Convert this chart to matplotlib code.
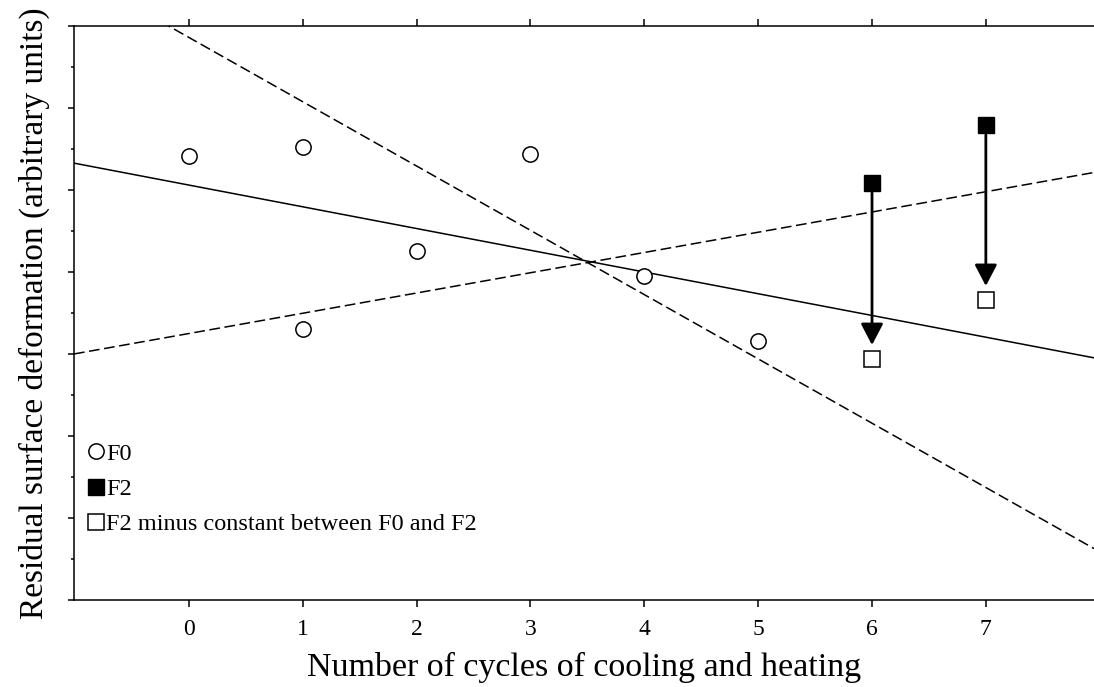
import matplotlib
matplotlib.use("Agg")
import matplotlib.pyplot as plt
import numpy as np

plt.rcParams["font.family"] = ["Liberation Serif", "DejaVu Serif"]

# F0 measurements
f0_x = [0, 1, 1, 2, 3, 4, 5]
f0_y = [5.41, 5.52, 3.30, 4.26, 5.44, 3.95, 3.16]

# F2 measurements and F2 shifted by the F0/F2 constant
f2_x = [6, 7]
f2_y = [5.09, 5.79]
f2_shift_y = [2.94, 3.66]

# fitted lines: (intercept, slope, style)
fits = [
    (5.06, -0.265, "-"),
    (6.86, -0.784, "--"),
    (3.25, 0.247, "--"),
]

x_ticks = list(range(0, 8))
x_lim = (-1.01, 7.95)
y_lim = (0, 7)


def main():
    fig = plt.figure(figsize=(10.94, 6.87), dpi=100)
    ax = fig.add_axes([74 / 1094, 87 / 687, 1 - 74 / 1094, 574 / 687])

    # regression line and its bounds
    xs = np.array(x_lim)
    for b, m, ls in fits:
        line, = ax.plot(xs, b + m * xs, color="k", lw=1.1, ls=ls)
        if ls == "--":
            line.set_dashes((7, 3))

    ax.plot(f0_x, f0_y, "o", ms=11, mfc="white", mec="k", mew=1.1,
            ls="none", label="F0")
    ax.plot(f2_x, f2_y, "s", ms=12, mfc="k", mec="k", ls="none", label="F2")
    ax.plot(f2_x, f2_shift_y, "s", ms=11, mfc="white", mec="k", mew=1.1,
            ls="none", label="F2 minus constant between F0 and F2")

    # arrows from F2 down to shifted F2
    for x, y0, y1 in zip(f2_x, f2_y, f2_shift_y):
        ax.annotate("", xy=(x, y1), xytext=(x, y0),
                    arrowprops=dict(arrowstyle="-|>,head_length=0.65,head_width=0.34",
                                    color="k", lw=2, shrinkA=7, shrinkB=10,
                                    mutation_scale=20))

    ax.set_xlim(*x_lim)
    ax.set_ylim(*y_lim)
    ax.set_xticks(x_ticks)
    ax.set_xticklabels([str(t) for t in x_ticks], fontsize=17)
    ax.set_yticks(np.arange(0, 7.01, 1))
    ax.set_yticks(np.arange(0.5, 7, 1), minor=True)
    ax.set_yticklabels([])
    ax.tick_params(axis="x", which="both", direction="out", length=5, width=1.1,
                   top=True, labeltop=False, pad=9)
    ax.tick_params(axis="y", which="major", direction="out", length=4, width=1.1)
    ax.tick_params(axis="y", which="minor", direction="out", length=2.2, width=1.1)
    ax.xaxis.set_minor_locator(matplotlib.ticker.NullLocator())

    for side in ["left", "bottom", "top"]:
        ax.spines[side].set_linewidth(1.1)
    ax.spines["right"].set_visible(False)

    ax.set_xlabel("Number of cycles of cooling and heating", fontsize=24.5,
                  labelpad=8)
    ax.set_ylabel("Residual surface deformation (arbitrary units)", fontsize=24,
                  labelpad=10)

    ax.legend(loc="lower left", bbox_to_anchor=(0.0, 0.087), frameon=False,
              fontsize=17.5, handlelength=0.6, handletextpad=0.12,
              labelspacing=0.55, borderaxespad=0.2, markerscale=1.0)

    fig.savefig("out.png", dpi=100)


if __name__ == "__main__":
    main()
